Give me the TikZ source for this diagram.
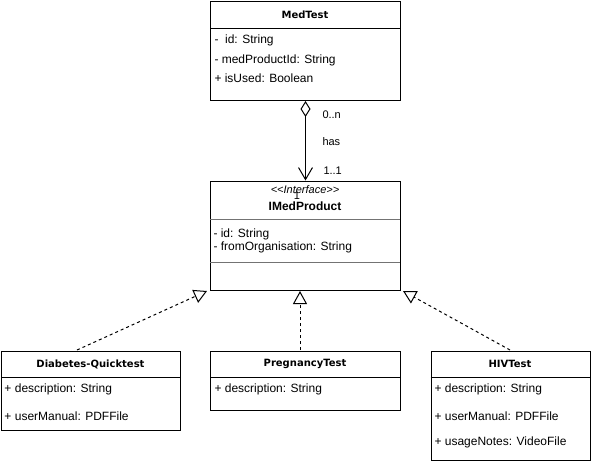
\documentclass[tikz,border=0pt]{standalone}
\usepackage{fontspec}
\setmainfont{Liberation Sans}
\newfontfamily\djv{DejaVu Sans}
\newfontfamily\stfont{Liberation Sans}[Ligatures=TeXOff]
\usetikzlibrary{arrows.meta}
\begin{document}
\begin{tikzpicture}[x=1pt,y=-1pt,line width=1pt,
  cls/.style={draw,line width=1pt,inner sep=0pt,anchor=north west,fill=white},
  ttl/.style={inner sep=0pt,font=\djv\bfseries\fontsize{10}{12}\selectfont},
  ttlb/.style={inner sep=0pt,font=\bfseries\fontsize{12}{14}\selectfont},
  attr/.style={anchor=west,inner sep=0pt,font=\fontsize{12}{14}\selectfont},
  lbl/.style={anchor=west,inner sep=0pt,font=\fontsize{11}{13}\selectfont},
  stereo/.style={inner sep=0pt,font=\stfont\itshape\fontsize{11}{13}\selectfont},
  divline/.style={line width=1pt},
  graydiv/.style={line width=1pt,draw=black!55},
  realize/.style={line width=1pt,dash pattern=on 3pt off 3pt,-{Triangle[fill=white,length=13pt,width=14pt]}},
  assoc/.style={line width=1pt,{Diamond[fill=white,length=16pt,width=10pt]}-{Straight Barb[length=12pt,width=14pt]}}
]
\useasboundingbox (0,0) rectangle (591,461);

% MedTest
\node[cls,minimum width=190pt,minimum height=99pt] (medtest) at (210,1) {};
\draw[divline] (210,28) -- (400,28);
\node[ttl] (medtestT) at (305,15) {MedTest};
\node[attr] (mt1) at (214,40) {-\ \ id: String};
\node[attr] (mt2) at (214,60) {- medProductId: String};
\node[attr] (mt3) at (214,78) {+ isUsed: Boolean};

% IMedProduct
\node[cls,minimum width=190pt,minimum height=109.5pt] (imed) at (210,180.5) {};
\node[stereo] (imedS) at (305,190) {<<Interface>>};
\node[lbl,anchor=center] (one) at (297,196) {1};
\node[ttlb] (imedT) at (305,206) {IMedProduct};
\draw[graydiv] (210,219) -- (400,219);
\node[attr] (im1) at (213,234) {- id: String};
\node[attr] (im2) at (213,247) {- fromOrganisation: String};
\draw[graydiv] (210,262) -- (400,262);

% Diabetes
\node[cls,minimum width=179pt,minimum height=79.5pt] (diab) at (1,350.5) {};
\draw[divline] (1,377) -- (180,377);
\node[ttl] (diabT) at (90.5,364) {Diabetes-Quicktest};
\node[attr] (d1) at (4,389) {+ description: String};
\node[attr] (d2) at (4,416) {+ userManual: PDFFile};

% PregnancyTest
\node[cls,minimum width=190pt,minimum height=59.5pt] (preg) at (210,350.5) {};
\draw[divline] (210,377) -- (400,377);
\node[ttl] (pregT) at (305,364) {PregnancyTest};
\node[attr] (p1) at (214,389) {+ description: String};

% HIVTest
\node[cls,minimum width=159.5pt,minimum height=109.5pt] (hiv) at (430.5,350.5) {};
\draw[divline] (430.5,377) -- (590,377);
\node[ttl] (hivT) at (510,364) {HIVTest};
\node[attr] (h1) at (434,389) {+ description: String};
\node[attr] (h2) at (434,416) {+ userManual: PDFFile};
\node[attr] (h3) at (434,442) {+ usageNotes: VideoFile};

% association
\draw[assoc] (medtest.south) -- (imed.north);
\node[lbl] (l0n) at (322,115) {0..n};
\node[lbl] (lhas) at (322,142) {has};
\node[lbl] (l11) at (323,171) {1..1};

% realizations
\coordinate (dtop) at (77,350);
\coordinate (dtip) at (207,291);
\coordinate (ptop) at (300,350);
\coordinate (ptip) at (300,291);
\coordinate (htop) at (510,350);
\coordinate (htip) at (403,291);
\draw[realize] (dtop) -- (dtip);
\draw[realize] (ptop) -- (ptip);
\draw[realize] (htop) -- (htip);
\end{tikzpicture}
\end{document}
